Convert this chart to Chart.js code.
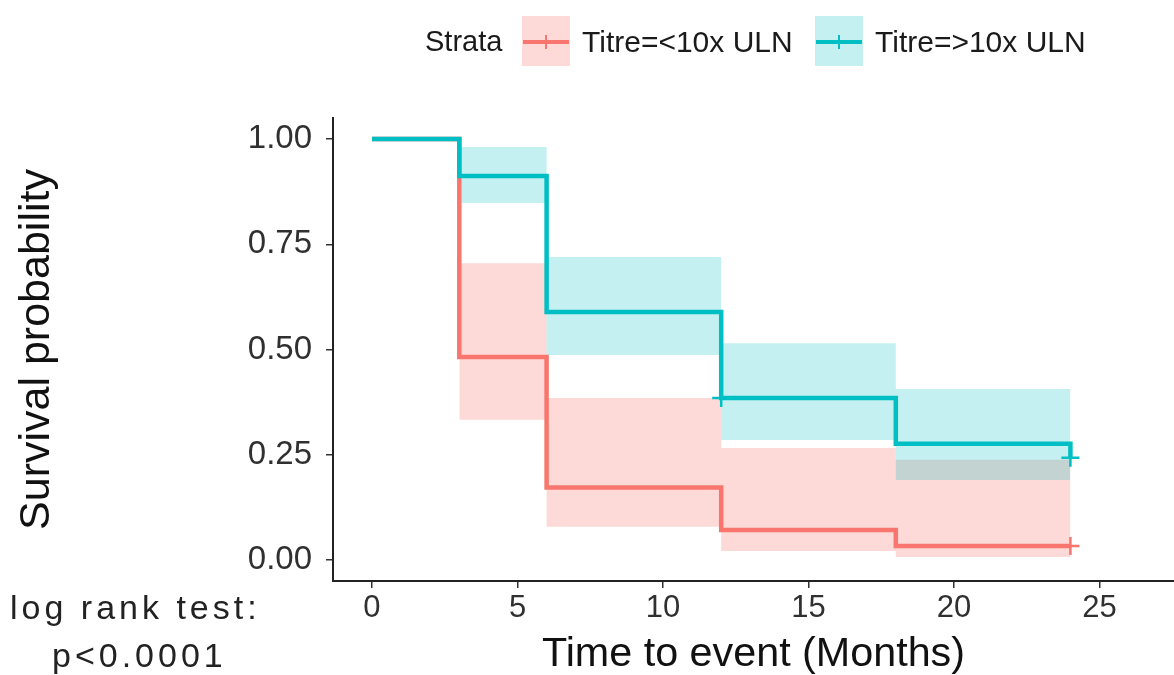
<!DOCTYPE html>
<html>
<head>
<meta charset="utf-8">
<script src="https://cdn.jsdelivr.net/npm/chart.js@4.4.1/dist/chart.umd.min.js"></script>
<style>
    body { margin: 0; background: #fff; font-family: 'Liberation Sans', Arial, sans-serif; }
    #wrap { position: relative; width: 1174px; height: 675px; }
    #km { position: absolute; left: 0; top: 0; }
    .txt { position: absolute; color: #1a1a1a; white-space: nowrap; line-height: 1; }
    .legend-txt { font-size: 30px; top: 27px; }
    .key { position: absolute; top: 16px; width: 48px; height: 50px; }
    .key .hline { position: absolute; left: 1px; right: 1px; top: 24px; height: 4px; }
    .key .vline { position: absolute; left: 23px; top: 19px; width: 2px; height: 14px; }
    .lr { font-size: 34px; letter-spacing: 4px; color: #222; }
</style>
</head>
<body>
<div id="wrap">
    <canvas id="km" width="1174" height="675"></canvas>

    <div class="txt legend-txt" style="left:425px; font-size:29px">Strata</div>
    <div class="key" style="left:522px; background:rgba(248,118,109,0.27)">
        <div class="hline" style="background:#F8766D"></div>
        <div class="vline" style="background:#F8766D"></div>
    </div>
    <div class="txt legend-txt" style="left:582px">Titre=&lt;10x ULN</div>
    <div class="key" style="left:815px; background:rgba(0,191,196,0.23)">
        <div class="hline" style="background:#00BFC4"></div>
        <div class="vline" style="background:#00BFC4"></div>
    </div>
    <div class="txt legend-txt" style="left:875px">Titre=&gt;10x ULN</div>

    <div class="txt lr" style="left:10px; top:590px">log rank test:</div>
    <div class="txt lr" style="left:52px; top:638px">p&lt;0.0001</div>
</div>

<script>
// step times (months)
const times = [0, 3, 6, 12, 18, 24];
const survLow = [1, 0.482, 0.172, 0.071, 0.033, 0.033];   // Titre=<10x ULN
const survHigh = [1, 0.912, 0.589, 0.385, 0.276, 0.243];  // Titre=>10x ULN

// confidence bands start at the first event
const bandTimes = [3, 6, 12, 18, 24];
const lowUpper = [0.705, 0.385, 0.266, 0.238, 0.238];
const lowLower = [0.333, 0.079, 0.021, 0.007, 0.007];
const highUpper = [0.981, 0.720, 0.515, 0.406, 0.406];
const highLower = [0.848, 0.487, 0.285, 0.190, 0.190];

// censored observations
const censorLowT = [24];
const censorLowS = [0.033];
const censorHighT = [12, 24];
const censorHighS = [0.385, 0.243];

const xTicks = [0, 5, 10, 15, 20, 25];
const yTicks = [0, 0.25, 0.5, 0.75, 1];

const RED = '#F8766D';
const TEAL = '#00BFC4';
const FONT = "'Liberation Sans', Arial, sans-serif";

const pts = (xs, ys) => xs.map((x, i) => ({ x: x, y: ys[i] }));

// higher order gets drawn first (underneath)
function band(xs, ys, fillCol, isUpper, order) {
    return {
        type: 'line',
        data: pts(xs, ys),
        stepped: 'before',
        borderWidth: 0,
        pointRadius: 0,
        backgroundColor: fillCol,
        fill: isUpper ? '+1' : false,
        order: order
    };
}

function survLine(ys, col, order) {
    return {
        type: 'line',
        data: pts(times, ys),
        stepped: 'before',
        borderColor: col,
        borderWidth: 4.5,
        pointRadius: 0,
        fill: false,
        order: order
    };
}

function censors(xs, ys, col) {
    return {
        type: 'scatter',
        data: pts(xs, ys),
        pointStyle: 'cross',
        pointRadius: 9,
        borderColor: col,
        borderWidth: 2.5,
        order: 1
    };
}

const ctx = document.getElementById('km').getContext('2d');

new Chart(ctx, {
    type: 'line',
    data: {
        datasets: [
            band(bandTimes, lowUpper, 'rgba(248,118,109,0.27)', true, 8),
            band(bandTimes, lowLower, 'rgba(248,118,109,0.27)', false, 8),
            band(bandTimes, highUpper, 'rgba(0,191,196,0.23)', true, 6),
            band(bandTimes, highLower, 'rgba(0,191,196,0.23)', false, 6),
            survLine(survLow, RED, 4),
            survLine(survHigh, TEAL, 3),
            censors(censorLowT, censorLowS, RED),
            censors(censorHighT, censorHighS, TEAL)
        ]
    },
    options: {
        responsive: false,
        animation: false,
        layout: { autoPadding: false, padding: { top: 118, right: 0, left: 0, bottom: 0 } },
        plugins: {
            legend: { display: false },
            tooltip: { enabled: false }
        },
        scales: {
            x: {
                type: 'linear',
                min: -1.34,
                max: 27.56,
                afterBuildTicks: (s) => { s.ticks = xTicks.map(v => ({ value: v })); },
                afterFit: (s) => { s.height = 94; },
                grid: { drawOnChartArea: false, drawTicks: true, tickLength: 7, color: '#333', lineWidth: 1.5 },
                border: { display: true, color: '#222', width: 2 },
                ticks: { font: { family: FONT, size: 31 }, color: '#303030', padding: 2, maxRotation: 0 },
                title: {
                    display: true,
                    text: 'Time to event (Months)',
                    font: { family: FONT, size: 41.3, lineHeight: 1.0 },
                    color: '#111',
                    padding: { top: 0, bottom: 0 }
                }
            },
            y: {
                type: 'linear',
                min: -0.05,
                max: 1.05,
                afterBuildTicks: (s) => { s.ticks = yTicks.map(v => ({ value: v })); },
                afterFit: (s) => { s.width = 333; },
                grid: { drawOnChartArea: false, drawTicks: true, tickLength: 7, color: '#333', lineWidth: 1.5 },
                border: { display: true, color: '#222', width: 2 },
                ticks: {
                    font: { family: FONT, size: 33 },
                    color: '#303030',
                    padding: 14,
                    callback: (v) => v.toFixed(2)
                },
                title: {
                    display: true,
                    text: 'Survival probability',
                    font: { family: FONT, size: 43, lineHeight: 1.0 },
                    color: '#111',
                    padding: { top: 16, bottom: 0 }
                }
            }
        }
    }
});
</script>
</body>
</html>
